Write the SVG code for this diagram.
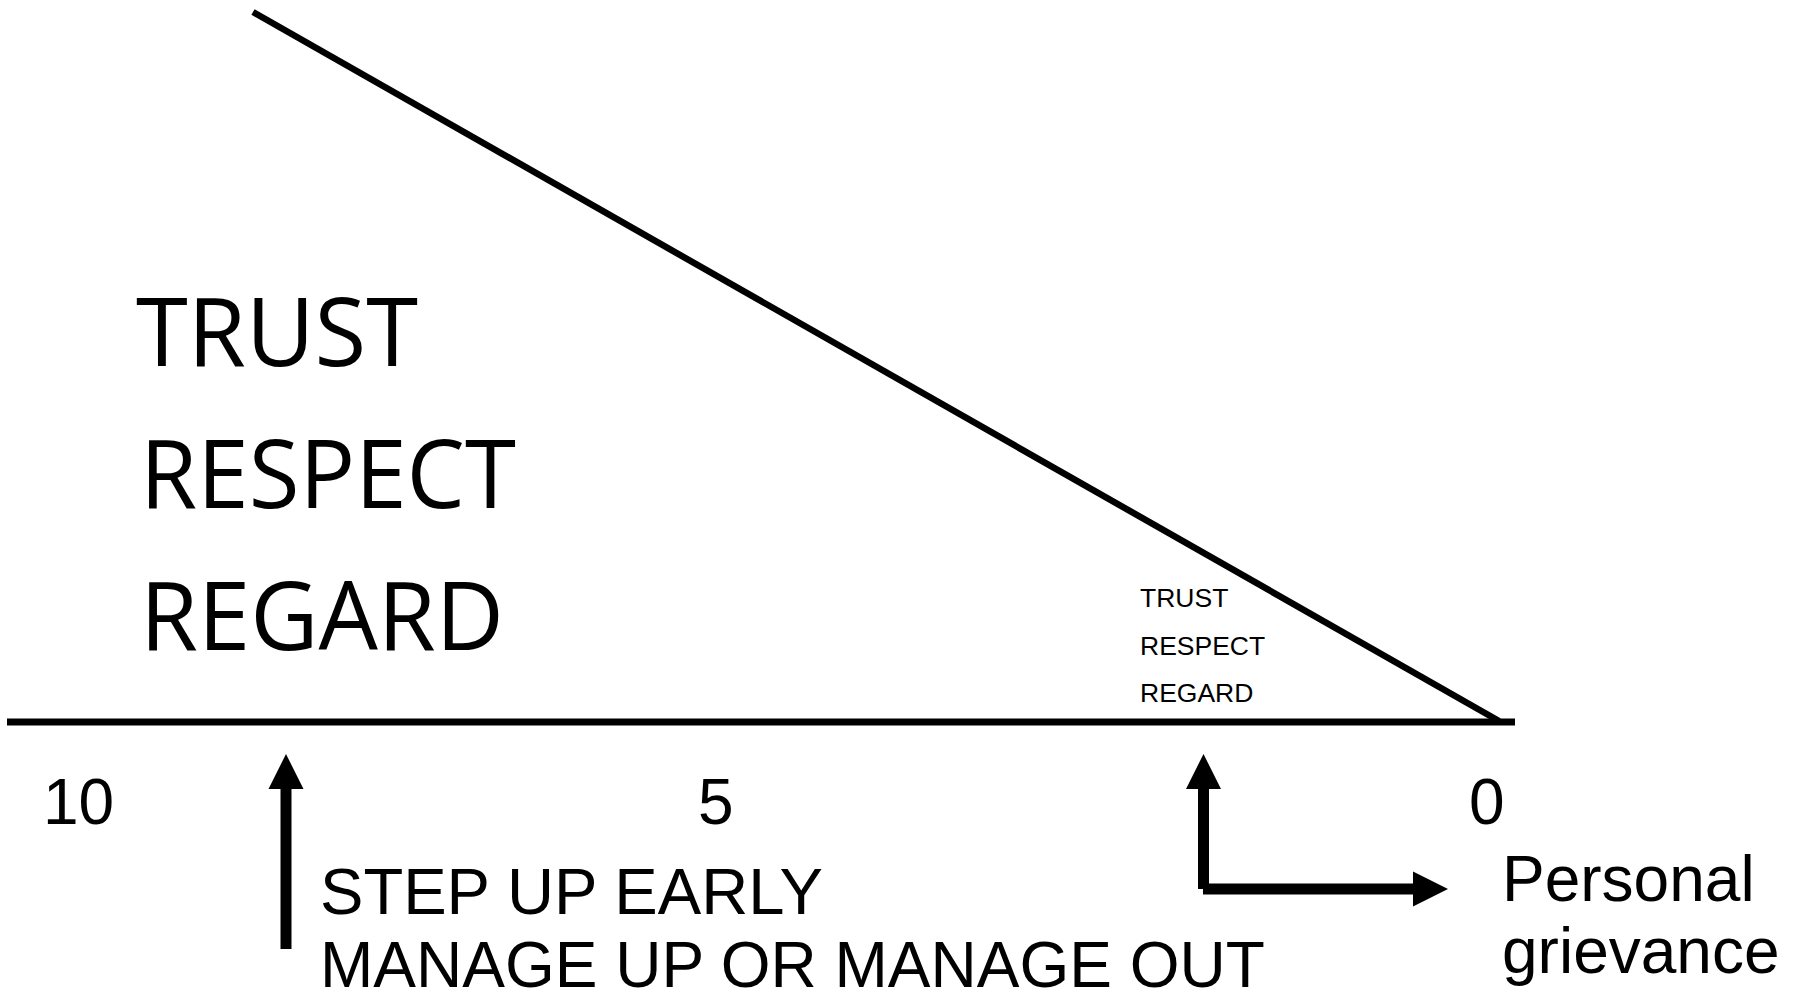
<svg xmlns="http://www.w3.org/2000/svg" width="1804" height="996" viewBox="0 0 1804 996">
  <style>
    .big { font-family: "Open Sans", "Noto Sans", sans-serif; font-size: 95px; fill: #000; }
    .small { font-family: "Liberation Sans", Arial, sans-serif; font-size: 26.5px; fill: #000; }
    .lbl { font-family: "Liberation Sans", Arial, sans-serif; font-size: 64px; fill: #000; }
    .axis { stroke: #000; fill: none; stroke-linecap: butt; }
    .arrow { stroke: #000; stroke-width: 11; fill: none; stroke-linecap: butt; }
  </style>
  <defs>
    <marker id="head" markerUnits="userSpaceOnUse" markerWidth="36" markerHeight="36" refX="0" refY="17.5" orient="auto" overflow="visible">
      <path d="M0,0 L35,17.5 L0,35 Z" fill="#000"/>
    </marker>
  </defs>
  <rect width="1804" height="996" fill="#fff"/>

  <g id="connectors">
    <line class="axis" x1="253" y1="12" x2="1499" y2="721" stroke-width="6.5"/>
    <line class="axis" x1="7" y1="722" x2="1515" y2="722" stroke-width="7"/>
    <line class="arrow" x1="286" y1="949" x2="286" y2="789" marker-end="url(#head)"/>
    <line class="arrow" x1="1203.5" y1="889" x2="1203.5" y2="789" marker-end="url(#head)"/>
    <line class="arrow" x1="1203" y1="889" x2="1413" y2="889" stroke-width="10" marker-end="url(#head)"/>
  </g>

  <g id="big-values">
    <text class="big" x="136" y="366" textLength="282" lengthAdjust="spacingAndGlyphs">TRUST</text>
    <text class="big" x="140" y="508" textLength="376" lengthAdjust="spacingAndGlyphs">RESPECT</text>
    <text class="big" x="140" y="650" textLength="364" lengthAdjust="spacingAndGlyphs">REGARD</text>
  </g>

  <g id="small-values">
    <text class="small" x="1140" y="607">TRUST</text>
    <text class="small" x="1140" y="655">RESPECT</text>
    <text class="small" x="1140" y="702">REGARD</text>
  </g>

  <g id="scale">
    <text class="lbl" x="43" y="824">10</text>
    <text class="lbl" x="698" y="824">5</text>
    <text class="lbl" x="1469" y="824">0</text>
  </g>

  <g id="step-up">
    <text class="lbl" x="320" y="914" textLength="503" lengthAdjust="spacingAndGlyphs">STEP UP EARLY</text>
    <text class="lbl" x="320" y="987">MANAGE UP OR MANAGE OUT</text>
  </g>

  <g id="grievance">
    <text class="lbl" x="1502" y="901">Personal</text>
    <text class="lbl" x="1502" y="973">grievance</text>
  </g>
</svg>
